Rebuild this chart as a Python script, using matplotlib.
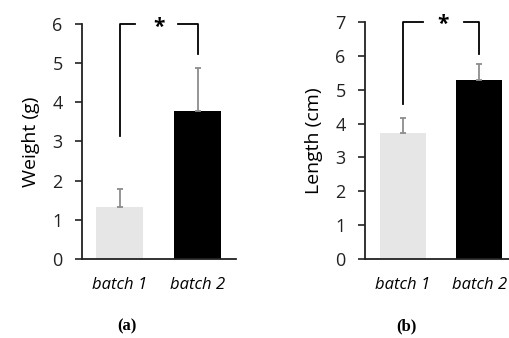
import numpy as np
import matplotlib.pyplot as plt

# Data
groups = ["batch 1", "batch 2"]
weight = [1.33, 3.78]
weight_err = [0.46, 1.10]
length = [3.73, 5.30]
length_err = [0.42, 0.45]

bar_colors = ["#e6e6e6", "#000000"]
plt.rcParams['font.family'] = ['Open Sans', 'DejaVu Sans']

fig = plt.figure(figsize=(5.1, 3.38), dpi=100)
ax1 = fig.add_axes([0.161, 0.234, 0.302, 0.695])
ax2 = fig.add_axes([0.716, 0.234, 0.284, 0.701])

def draw_panel(ax, vals, errs, ylabel, ymax, left_y, right_y, gap, star_x):
    x = np.arange(len(vals))
    ax.bar(x, vals, width=0.6, color=bar_colors)
    ax.errorbar(x, vals, yerr=[np.zeros(len(errs)), errs], fmt="none",
                ecolor="#8c8c8c", elinewidth=1.3, capsize=2.5, capthick=1.3)
    ax.set_ylim(0, ymax)
    ax.set_yticks(range(ymax + 1))
    ax.set_xticks(x)
    ax.set_xticklabels(groups, style="italic", fontsize=12)
    ax.tick_params(axis="x", length=0, pad=13)
    ax.tick_params(axis="y", length=5, width=1.2, direction="out", labelsize=13,
                   colors="#222222", pad=9)
    ax.set_ylabel(ylabel, fontsize=14, labelpad=9)
    for s in ["top", "right"]:
        ax.spines[s].set_visible(False)
    for s in ["left", "bottom"]:
        ax.spines[s].set_linewidth(1.3)
        ax.spines[s].set_color("#222222")
    # significance bracket
    ax.plot([0, 0, gap[0]], [left_y, ymax, ymax], color="black", lw=1.3, clip_on=False)
    ax.plot([gap[1], 1, 1], [ymax, ymax, right_y], color="black", lw=1.3, clip_on=False)
    ax.text(star_x, ymax - 0.08, "*", ha="center", va="center", fontsize=15, fontweight="bold")

draw_panel(ax1, weight, weight_err, "Weight (g)", 6, 3.14, 5.23, (0.2, 0.75), 0.5)
ax1.set_xlim(-0.48, 1.49)
draw_panel(ax2, length, length_err, "Length (cm)", 7, 4.59, 6.06, (0.27, 0.8), 0.53)
ax2.set_xlim(-0.49, 1.4)

fig.text(0.249, 0.035, "(a)", ha="center", va="center", family="Liberation Serif", fontweight="bold", fontsize=12)
fig.text(0.796, 0.035, "(b)", ha="center", va="center", family="Liberation Serif", fontweight="bold", fontsize=12)

fig.savefig("out.png", dpi=100)
